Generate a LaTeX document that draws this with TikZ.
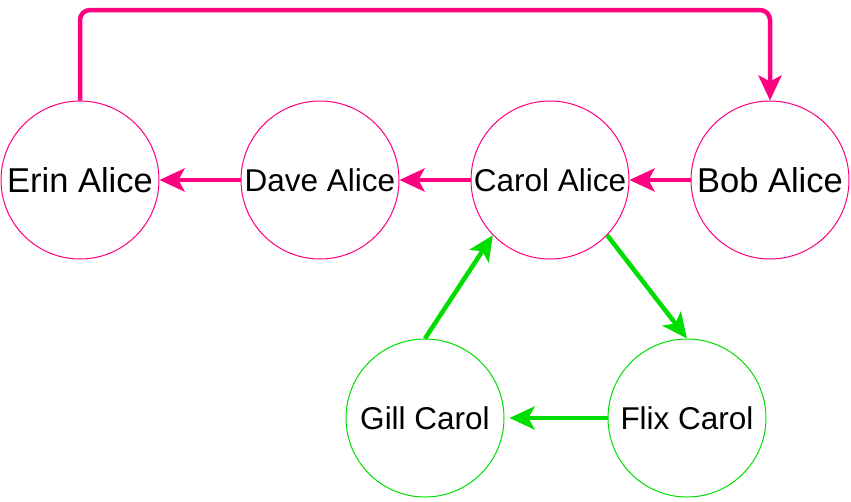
\documentclass[tikz,border=0pt]{standalone}
\usepackage{fontspec}
\setmainfont{Liberation Sans}
\usepackage{xcolor}
\usetikzlibrary{arrows.meta,positioning,calc}
\definecolor{linkpink}{HTML}{FF0080}
\definecolor{linkgreen}{HTML}{00DD00}

\begin{document}
\begin{tikzpicture}[x=1pt,y=-1pt,>={Stealth[length=25pt,width=23pt,inset=6pt]},
    pinkcircle/.style={circle,draw=linkpink,line width=1pt,minimum size=158pt,inner sep=0pt,font=\fontsize{31.5}{36}\selectfont},
    greencircle/.style={pinkcircle,draw=linkgreen},
    bigtext/.style={font=\fontsize{34.5}{40}\selectfont},
    pinkarrow/.style={->,linkpink,line width=4.5pt},
    greenarrow/.style={->,linkgreen,line width=4.5pt}]
  \useasboundingbox (0,0) rectangle (851,501);
  \node[pinkcircle,bigtext] (erin) at (80,180) {Erin Alice};
  \node[pinkcircle] (dave) at (320,180) {Dave Alice};
  \node[pinkcircle] (carol) at (550,180) {Carol Alice};
  \node[pinkcircle,bigtext] (bob) at (770,180) {Bob Alice};
  \node[greencircle] (gill) at (425,418) {Gill Carol};
  \node[greencircle] (flix) at (687,418) {Flix Carol};
  \coordinate (topleft) at (80,10);
  \coordinate (topright) at (770,10);
  \draw[pinkarrow,rounded corners=10pt] (erin.north) -- (topleft) -- (topright) -- (bob.north);
  \draw[pinkarrow] (bob.west) -- (carol.east);
  \draw[pinkarrow] (carol.west) -- (dave.east);
  \draw[pinkarrow] (dave.west) -- (erin.east);
  \draw[greenarrow] (carol.-44) -- (flix.north);
  \draw[greenarrow,shorten >=5pt] (flix.west) -- (gill.east);
  \draw[greenarrow] (gill.north) -- (carol.-136);
\end{tikzpicture}
\end{document}
